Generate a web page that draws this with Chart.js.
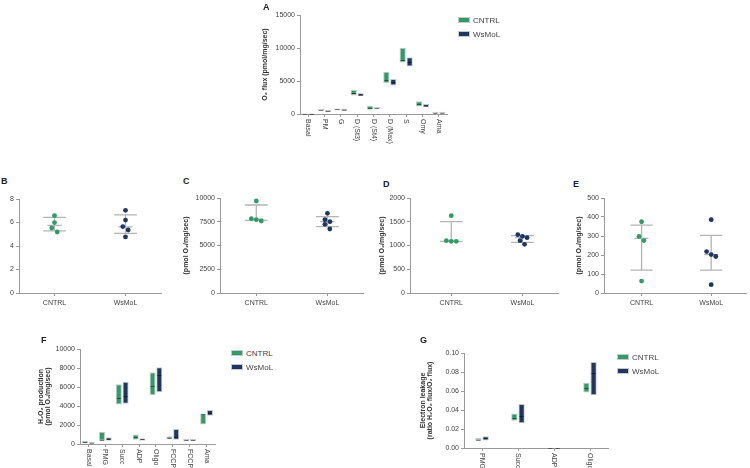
<!DOCTYPE html>
<html>
<head>
<meta charset="utf-8">
<script src="https://cdn.jsdelivr.net/npm/chart.js@4.4.1/dist/chart.umd.min.js"></script>
<style>
  body { margin: 0; background: #fff; }
  #page { position: relative; width: 750px; height: 468px; overflow: hidden; background: #fff;
          font-family: 'Liberation Sans Narrow', 'Liberation Sans', Arial, sans-serif; color: #333; }
  #page canvas { position: absolute; }
  .letter { position: absolute; font: bold 9px 'Liberation Sans', Arial, sans-serif; color: #222; }
  .leg { position: absolute; font-size: 8px; line-height: 9px; color: #444; white-space: nowrap; }
  .leg i { display: inline-block; width: 10px; height: 4px; margin-right: 3px; vertical-align: middle;
           border: 1px solid #c8c8c8; box-sizing: content-box; position: relative; top: -1px; }
</style>
</head>
<body>
<div id="page"></div>
<script>
// colours
const green = '#2f9c68';
const navy = '#1e3761';
const axisCol = '#9a9a9a';
const textCol = '#444';
const fontFam = "'Liberation Sans Narrow', 'Liberation Sans', Arial, sans-serif";

// ---- A: O2 flux, min-max bars with median
const aLabels = ['Basal', 'PM', 'G', 'D (St3)', 'D (St4)', 'D (Max)', 'S', 'Omy', 'Ama'];
const aCntrlMin = [0, 500, 550, 2800, 650, 4700, 7800, 1150, 0];
const aCntrlMax = [150, 800, 850, 3670, 1250, 6400, 10050, 1950, 350];
const aCntrlMed = [70, 650, 700, 3150, 900, 5200, 8200, 1500, 150];
const aWsMin = [0, 300, 500, 2700, 800, 4300, 7200, 1050, 0];
const aWsMax = [150, 600, 850, 3200, 1100, 5300, 8600, 1500, 350];
const aWsMed = [70, 450, 650, 2950, 950, 4800, 7900, 1250, 200];

// ---- B-E: individual values, median with IQR (q1, median, q3)
const groups = ['CNTRL', 'WsMoL'];
const bCntrl = [6.58, 5.99, 5.53, 5.19];
const bCntrlDx = [0, 0, -0.038, 0.038];
const bCntrlQ = [5.28, 5.76, 6.44];
const bWs = [7.04, 6.21, 5.65, 5.36, 4.77];
const bWsDx = [0, 0, -0.038, 0.038, 0];
const bWsQ = [5.08, 5.62, 6.65];

const cCntrl = [9684, 7824, 7719, 7579];
const cCntrlDx = [0, -0.07, 0, 0.07];
const cCntrlQ = [7650, 7770, 9263];
const cWs = [8386, 7719, 7509, 7228, 6737];
const cWsDx = [0, -0.035, 0.035, -0.035, 0.033];
const cWsQ = [6982, 7509, 8035];

const dCntrl = [1628, 1102, 1088, 1088];
const dCntrlDx = [0, -0.07, 0, 0.07];
const dCntrlQ = [1088, 1095, 1502];
const dWs = [1228, 1193, 1165, 1102, 1025];
const dWsDx = [-0.065, 0, 0.065, -0.033, 0.03];
const dWsQ = [1067, 1165, 1207];

const eCntrl = [375, 298, 276, 63];
const eCntrlDx = [0, -0.037, 0.033, 0];
const eCntrlQ = [120, 287, 357];
const eWs = [386, 218, 202, 192, 44];
const eWsDx = [0, -0.066, 0, 0.066, 0];
const eWsQ = [120, 202, 303];

// ---- F: H2O2 production
const fLabels = ['Basal', 'PMG', 'Succ', 'ADP', 'Oligo', 'FCCP', 'FCCP', 'Ama'];
const fCntrlMin = [0, 350, 4170, 460, 5120, 530, 320, 2050];
const fCntrlMax = [350, 1300, 6290, 990, 7560, 810, 530, 3220];
const fCntrlMed = [175, 460, 4840, 700, 6080, 640, 420, 3110];
const fWsMin = [0, 350, 4240, 350, 5440, 460, 320, 2970];
const fWsMax = [250, 700, 6540, 600, 8090, 1590, 530, 3570];
const fWsMed = [100, 530, 5050, 500, 7300, 740, 420, 3250];

// ---- G: electron leakage
const gLabels = ['PMG', 'Succ', 'ADP', 'Oligo'];
const gCntrlMin = [0.0078, 0.0286, 0, 0.0583];
const gCntrlMax = [0.0106, 0.0364, 0.0007, 0.0686];
const gCntrlMed = [0.0088, 0.0318, 0.0003, 0.0629];
const gWsMin = [0.0078, 0.0261, 0, 0.0555];
const gWsMax = [0.0124, 0.0463, 0.0007, 0.0905];
const gWsMed = [0.0106, 0.0336, 0.0003, 0.0788];

Chart.defaults.font.family = fontFam;
Chart.defaults.font.size = 7;
Chart.defaults.color = textCol;
Chart.defaults.animation = false;

const page = document.getElementById('page');

function addCanvas(f) {
  const c = document.createElement('canvas');
  c.width = f.width; c.height = f.height;
  c.style.left = f.left + 'px'; c.style.top = f.top + 'px';
  c.style.width = f.width + 'px'; c.style.height = f.height + 'px';
  page.appendChild(c);
  return c;
}

function addText(cls, x, y, html) {
  const d = document.createElement('div');
  d.className = cls;
  d.style.left = x + 'px'; d.style.top = y + 'px';
  d.innerHTML = html;
  page.appendChild(d);
}

function legend(x, y) {
  addText('leg', x, y, '<i style="background:' + green + '"></i>CNTRL');
  addText('leg', x, y + 14, '<i style="background:' + navy + '"></i>WsMoL');
}

// frame: canvas rect, wanted plot area [l,t,r,b] in page px, left of y box
function layoutOf(f) {
  return {
    padding: { left: f.box - f.left, top: f.area[1] - f.top, right: f.left + f.width - f.area[2], bottom: 0 },
    yW: f.area[0] - f.box,
    xH: f.top + f.height - f.area[3]
  };
}

function yAxis(lay, max, step, title, fmt) {
  return {
    min: 0, max: max,
    ticks: { stepSize: step, padding: 2, callback: fmt || (v => v) },
    grid: { drawOnChartArea: false, tickLength: 3, color: axisCol },
    border: { color: axisCol, width: 1 },
    title: title ? { display: true, text: title, padding: 0, font: { size: 7, weight: 'bold', lineHeight: 1.0 }, color: '#333' } : { display: false },
    afterFit: s => { s.width = lay.yW; }
  };
}

// median line inside each floating bar
const medianPlugin = {
  id: 'medians',
  afterDatasetsDraw(chart) {
    const ctx = chart.ctx, y = chart.scales.y;
    chart.data.datasets.forEach((ds, i) => {
      if (!ds.medians) return;
      chart.getDatasetMeta(i).data.forEach((bar, j) => {
        const py = Math.round(y.getPixelForValue(ds.medians[j])) + 0.5;
        ctx.save();
        ctx.strokeStyle = 'rgba(0,0,0,0.45)';
        ctx.lineWidth = 1;
        ctx.beginPath();
        ctx.moveTo(bar.x - bar.width / 2 + 1, py);
        ctx.lineTo(bar.x + bar.width / 2 - 1, py);
        ctx.stroke();
        ctx.restore();
      });
    });
  }
};

// category labels turned 90 degrees clockwise, as in the figure
const downLabels = {
  id: 'downLabels',
  afterDraw(chart) {
    const ctx = chart.ctx, x = chart.scales.x;
    ctx.save();
    ctx.fillStyle = textCol;
    ctx.font = '7px ' + fontFam;
    ctx.textAlign = 'left';
    ctx.textBaseline = 'middle';
    chart.data.labels.forEach((lab, i) => {
      ctx.save();
      ctx.translate(x.getPixelForValue(i), x.top + 5);
      ctx.rotate(Math.PI / 2);
      ctx.fillText(lab, 0, 0);
      ctx.restore();
    });
    ctx.restore();
  }
};

function barPanel(f, labels, cMin, cMax, cMed, wMin, wMax, wMed, yMax, yStep, title, fmt, cp, bp) {
  const lay = layoutOf(f);
  const common = { borderColor: '#c8c8c8', borderWidth: 1, borderSkipped: false, categoryPercentage: cp, barPercentage: bp };
  new Chart(addCanvas(f), {
    type: 'bar',
    data: {
      labels: labels,
      datasets: [
        Object.assign({ label: 'CNTRL', data: labels.map((_, i) => [cMin[i], cMax[i]]), medians: cMed, backgroundColor: green }, common),
        Object.assign({ label: 'WsMoL', data: labels.map((_, i) => [wMin[i], wMax[i]]), medians: wMed, backgroundColor: navy }, common)
      ]
    },
    options: {
      responsive: false,
      layout: { padding: lay.padding },
      plugins: { legend: { display: false }, tooltip: { enabled: false } },
      scales: {
        x: {
          ticks: { display: false },
          grid: { offset: false, drawOnChartArea: false, tickLength: 3, color: axisCol },
          border: { color: axisCol, width: 1 },
          afterFit: s => { s.height = lay.xH; }
        },
        y: yAxis(lay, yMax, yStep, title, fmt)
      }
    },
    plugins: [medianPlugin, downLabels]
  });
}

function errorBar(xc, q) {
  const c = 0.16, m = 0.1;
  return [
    { x: xc - c, y: q[2] }, { x: xc + c, y: q[2] }, { x: xc, y: null },
    { x: xc, y: q[2] }, { x: xc, y: q[0] }, { x: xc, y: null },
    { x: xc - c, y: q[0] }, { x: xc + c, y: q[0] }, { x: xc, y: null },
    { x: xc - m, y: q[1] }, { x: xc + m, y: q[1] }
  ];
}

function dotPanel(f, xMin, yMax, yStep, title, cY, cDx, cQ, wY, wDx, wQ) {
  const lay = layoutOf(f);
  const lineDs = (data) => ({ type: 'line', data: data, showLine: true, spanGaps: false, pointRadius: 0,
    borderColor: '#b4b4b4', borderWidth: 1.3, order: 2 });
  const dotDs = (ys, dx, xc, col) => ({ data: ys.map((v, i) => ({ x: xc + dx[i], y: v })),
    pointRadius: 2.4, pointBackgroundColor: col, pointBorderColor: col, pointBorderWidth: 0, order: 1 });
  new Chart(addCanvas(f), {
    type: 'scatter',
    data: {
      datasets: [
        dotDs(cY, cDx, 1, green), dotDs(wY, wDx, 2, navy),
        lineDs(errorBar(1, cQ)), lineDs(errorBar(2, wQ))
      ]
    },
    options: {
      responsive: false,
      layout: { padding: lay.padding },
      plugins: { legend: { display: false }, tooltip: { enabled: false } },
      scales: {
        x: {
          type: 'linear', min: xMin, max: 2.5,
          afterBuildTicks: s => { s.ticks = [{ value: 1 }, { value: 2 }]; },
          ticks: { padding: 3, callback: v => groups[v - 1] },
          grid: { drawOnChartArea: false, tickLength: 3, color: axisCol },
          border: { color: axisCol, width: 1 },
          afterFit: s => { s.height = lay.xH; }
        },
        y: yAxis(lay, yMax, yStep, title)
      }
    }
  });
}

const pmol = '(pmol O\u2082/mg/sec)';

barPanel({ left: 255, top: 5, width: 205, height: 150, area: [300, 15, 447, 114], box: 262 },
  aLabels, aCntrlMin, aCntrlMax, aCntrlMed, aWsMin, aWsMax, aWsMed, 15000, 5000,
  'O\u2082 flux (pmol/mg/sec)', null, 0.85, 0.9);

dotPanel({ left: 0, top: 190, width: 170, height: 125, area: [19, 199, 161, 293], box: 0 },
  0.5, 8, 2, null, bCntrl, bCntrlDx, bCntrlQ, bWs, bWsDx, bWsQ);
dotPanel({ left: 175, top: 190, width: 195, height: 125, area: [220, 198, 363, 293], box: 183 },
  0.49, 10000, 2500, pmol, cCntrl, cCntrlDx, cCntrlQ, cWs, cWsDx, cWsQ);
dotPanel({ left: 372, top: 190, width: 190, height: 125, area: [410, 198, 558, 293], box: 379 },
  0.42, 2000, 500, pmol, dCntrl, dCntrlDx, dCntrlQ, dWs, dWsDx, dWsQ);
dotPanel({ left: 570, top: 190, width: 180, height: 125, area: [604, 198, 749, 293], box: 576 },
  0.46, 500, 100, pmol, eCntrl, eCntrlDx, eCntrlQ, eWs, eWsDx, eWsQ);

barPanel({ left: 30, top: 335, width: 195, height: 133, area: [80, 349, 215, 444], box: 37.5 },
  fLabels, fCntrlMin, fCntrlMax, fCntrlMed, fWsMin, fWsMax, fWsMed, 10000, 2000,
  ['H\u2082O\u2082 production', pmol], null, 0.8, 0.9);

barPanel({ left: 415, top: 335, width: 200, height: 133, area: [464, 353, 608, 448], box: 419.5 },
  gLabels, gCntrlMin, gCntrlMax, gCntrlMed, gWsMin, gWsMax, gWsMed, 0.1, 0.02,
  ['Electron leakage', '(ratio H\u2082O\u2082 flux/O\u2082 flux)'], v => v.toFixed(2), 0.4, 0.88);

legend(458, 16);
legend(231, 349);
legend(617, 353);

addText('letter', 263, 2, 'A');
addText('letter', 1, 176, 'B');
addText('letter', 183, 176, 'C');
addText('letter', 383, 179, 'D');
addText('letter', 573, 179, 'E');
addText('letter', 41, 335, 'F');
addText('letter', 420, 335, 'G');
</script>
</body>
</html>
